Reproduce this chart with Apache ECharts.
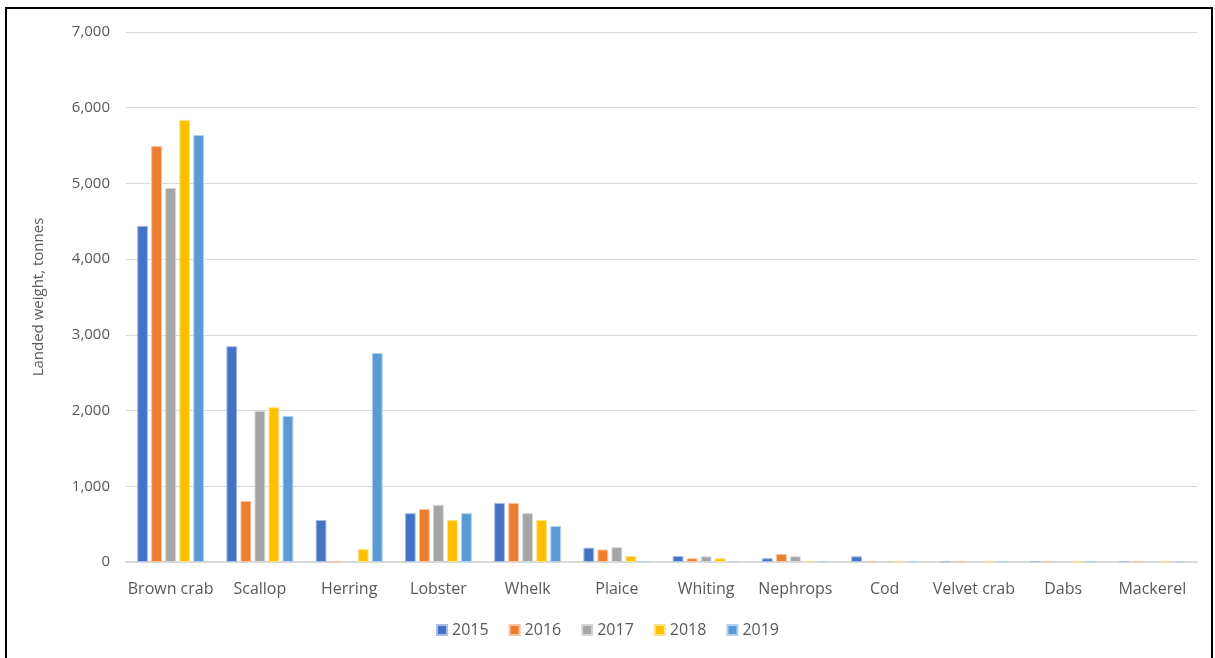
<!DOCTYPE html>
<html>
<head>
<meta charset="utf-8">
<script src="https://cdn.jsdelivr.net/npm/echarts@6/dist/echarts.min.js"></script>
<style>
html, body { margin: 0; padding: 0; background: #fff; }
#main { width: 1215px; height: 658px; }
</style>
</head>
<body>
<div id="main"></div>
<script>
let chart = echarts.init(document.getElementById('main'));

// 品种
let species = ['Brown crab', 'Scallop', 'Herring', 'Lobster', 'Whelk', 'Plaice',
	'Whiting', 'Nephrops', 'Cod', 'Velvet crab', 'Dabs', 'Mackerel'];
let years = ['2015', '2016', '2017', '2018', '2019'];
let colors = ['#4472c4', '#ed7d31', '#a5a5a5', '#ffc000', '#5b9bd5'];
let borders = ['#a9bde6', '#f7c3a0', '#d6d6d6', '#ffe38a', '#b3d1ee'];

// landed weight, tonnes
let y2015 = [4440, 2850, 555, 645, 780, 190, 80, 50, 75, 8, 8, 8];
let y2016 = [5495, 805, 0, 700, 780, 165, 50, 105, 8, 8, 8, 8];
let y2017 = [4940, 1995, 0, 755, 645, 195, 75, 75, 8, 8, 8, 8];
let y2018 = [5840, 2045, 170, 555, 555, 80, 50, 10, 8, 8, 8, 8];
let y2019 = [5640, 1930, 2760, 645, 475, 10, 10, 10, 8, 8, 8, 8];
let yearData = [y2015, y2016, y2017, y2018, y2019];

let seriesList = [];
years.forEach(function(y, i) {
	seriesList.push({
		name : y,
		type : 'bar',
		data : yearData[i],
		barGap : '30%',
		barCategoryGap : '25%',
		itemStyle : {
			color : colors[i],
			borderColor : borders[i],
			borderWidth : 1
		}
	});
});

let option = {
	animation : false,
	textStyle : {
		fontFamily : 'Open Sans, Noto Sans, sans-serif'
	},
	graphic : [{
		type : 'rect',
		shape : { x : 6, y : 8, width : 1206, height : 660 },
		style : { fill : 'none', stroke : '#000', lineWidth : 2 },
		silent : true
	}],
	legend : {
		data : years,
		bottom : 15,
		left : 'center',
		itemWidth : 10,
		itemHeight : 10,
		itemGap : 20,
		icon : 'rect',
		textStyle : { color : '#595959', fontSize : 16 }
	},
	grid : {
		left : 126,
		right : 18,
		top : 32,
		bottom : 96
	},
	xAxis : {
		type : 'category',
		data : species,
		axisTick : { show : false },
		axisLine : { lineStyle : { color : '#d9d9d9', width : 2 } },
		axisLabel : { color : '#595959', fontSize : 16, margin : 19, interval : 0 }
	},
	yAxis : {
		type : 'value',
		min : 0,
		max : 7000,
		interval : 1000,
		name : 'Landed weight, tonnes',
		nameLocation : 'middle',
		nameGap : 80,
		nameTextStyle : { color : '#595959', fontSize : 15 },
		axisLabel : {
			color : '#595959',
			fontSize : 15,
			margin : 16,
			formatter : function(v) { return v.toLocaleString('en-US'); }
		},
		splitLine : { lineStyle : { color : '#d9d9d9', width : 1 } }
	},
	series : seriesList
};
chart.setOption(option);
</script>
</body>
</html>
